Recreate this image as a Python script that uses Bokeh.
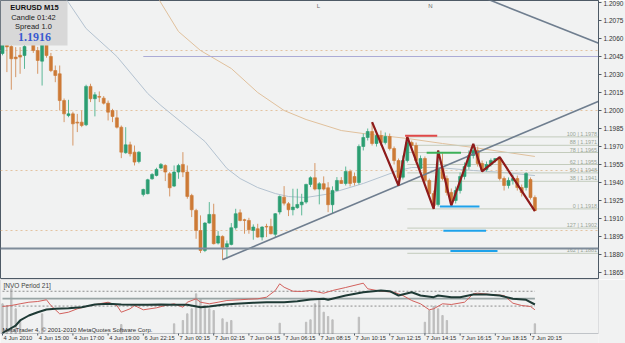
from bokeh.plotting import figure
from bokeh.layouts import column
from bokeh.models import Range1d, FixedTicker, NumeralTickFormatter, BoxAnnotation, Label, Span
from bokeh.embed import file_html
from bokeh.resources import INLINE
from bokeh.core.properties import value

# ------------------------------------------------------------------ data
bar_open = [
    1.20475, 1.20560, 1.20533, 1.20445, 1.20460, 1.20458, 1.20580, 1.20580, 1.20500, 1.20411,
    1.20580, 1.20450, 1.20333, 1.20306, 1.20083, 1.19958, 1.19972, 1.19903, 1.19903, 1.19881,
    1.20201, 1.20098, 1.20117, 1.20103, 1.20061, 1.20000, 1.19939, 1.19861, 1.19648, 1.19714,
    1.19653, 1.19575, 1.19301, 1.19307, 1.19431, 1.19459, 1.19520, 1.19542, 1.19473, 1.19370,
    1.19487, 1.19551, 1.19487, 1.19292, 1.19167, 1.19000, 1.18834, 1.19062, 1.19134, 1.18895,
    1.18951, 1.18862, 1.18884, 1.19023, 1.19148, 1.19090, 1.19084, 1.19001, 1.19015, 1.18945,
    1.19034, 1.19034, 1.18968, 1.19154, 1.19278, 1.19223, 1.19173, 1.19190, 1.19214, 1.19237,
    1.19384, 1.19440, 1.19345, 1.19390, 1.19356, 1.19215, 1.19334, 1.19417,
    1.19392, 1.19492, 1.19450, 1.19400, 1.19700, 1.19775, 1.19825, 1.19725, 1.19792, 1.19733,
    1.19783, 1.19683, 1.19583, 1.19444, 1.19583, 1.19733, 1.19708, 1.19517, 1.19600, 1.19417,
    1.19308, 1.19217, 1.19517, 1.19433, 1.19317, 1.19250, 1.19333, 1.19450, 1.19533, 1.19625,
    1.19667, 1.19558, 1.19508, 1.19550, 1.19583, 1.19600, 1.19433, 1.19375, 1.19417, 1.19433,
    1.19358, 1.19358, 1.19425, 1.19275]
bar_high = [
    1.20590, 1.20600, 1.20580, 1.20528, 1.20528, 1.20570, 1.20620, 1.20610, 1.20530, 1.20590,
    1.20610, 1.20480, 1.20375, 1.20375, 1.20100, 1.20089, 1.19990, 1.19972, 1.20000, 1.20215,
    1.20223, 1.20153, 1.20159, 1.20120, 1.20083, 1.20014, 1.20000, 1.19875, 1.19861, 1.19740,
    1.19708, 1.19660, 1.19348, 1.19431, 1.19478, 1.19523, 1.19562, 1.19551, 1.19487, 1.19542,
    1.19556, 1.19653, 1.19542, 1.19306, 1.19181, 1.19126, 1.19070, 1.19237, 1.19223, 1.18995,
    1.18959, 1.18917, 1.19062, 1.19181, 1.19176, 1.19098, 1.19106, 1.19051, 1.19056, 1.19035,
    1.19056, 1.19098, 1.19145, 1.19292, 1.19370, 1.19237, 1.19348, 1.19348, 1.19306, 1.19390,
    1.19451, 1.19562, 1.19403, 1.19451, 1.19403, 1.19368, 1.19445, 1.19445,
    1.19533, 1.19508, 1.19483, 1.19717, 1.19808, 1.19850, 1.19903, 1.19825, 1.19833, 1.19817,
    1.19808, 1.19700, 1.19600, 1.19625, 1.19780, 1.19750, 1.19733, 1.19625, 1.19617, 1.19433,
    1.19333, 1.19667, 1.19642, 1.19458, 1.19350, 1.19367, 1.19483, 1.19567, 1.19667, 1.19722,
    1.19700, 1.19583, 1.19575, 1.19600, 1.19600, 1.19611, 1.19450, 1.19442, 1.19467, 1.19458,
    1.19383, 1.19486, 1.19442, 1.19292]
bar_low = [
    1.20460, 1.20320, 1.20173, 1.20278, 1.20306, 1.20347, 1.20545, 1.20480, 1.20306, 1.20208,
    1.20440, 1.20320, 1.20236, 1.20000, 1.19903, 1.19944, 1.19708, 1.19820, 1.19861, 1.19870,
    1.20070, 1.19951, 1.20070, 1.20050, 1.19917, 1.19903, 1.19850, 1.19603, 1.19640, 1.19617,
    1.19542, 1.19560, 1.19284, 1.19301, 1.19423, 1.19451, 1.19512, 1.19412, 1.19284, 1.19362,
    1.19431, 1.19445, 1.19265, 1.19112, 1.18931, 1.18812, 1.18820, 1.19057, 1.18884, 1.18884,
    1.18757, 1.18765, 1.18876, 1.19007, 1.19076, 1.18973, 1.18973, 1.18923, 1.18940, 1.18917,
    1.18945, 1.18968, 1.18945, 1.19134, 1.19209, 1.19120, 1.19126, 1.19181, 1.19126, 1.19223,
    1.19362, 1.19334, 1.19218, 1.19334, 1.19153, 1.19140, 1.19328, 1.19390,
    1.19375, 1.19367, 1.19375, 1.19383, 1.19667, 1.19750, 1.19708, 1.19700, 1.19708, 1.19717,
    1.19667, 1.19550, 1.19375, 1.19425, 1.19567, 1.19667, 1.19558, 1.19500, 1.19400, 1.19283,
    1.19180, 1.19200, 1.19417, 1.19292, 1.19208, 1.19225, 1.19308, 1.19425, 1.19508, 1.19600,
    1.19533, 1.19492, 1.19492, 1.19533, 1.19567, 1.19417, 1.19333, 1.19350, 1.19383, 1.19333,
    1.19283, 1.19333, 1.19258, 1.19161]
bar_close = [
    1.20560, 1.20530, 1.20431, 1.20431, 1.20445, 1.20533, 1.20560, 1.20500, 1.20417, 1.20560,
    1.20458, 1.20333, 1.20292, 1.20083, 1.19972, 1.19972, 1.19889, 1.19895, 1.19875, 1.20201,
    1.20098, 1.20131, 1.20111, 1.20061, 1.19986, 1.19950, 1.19861, 1.19653, 1.19714, 1.19640,
    1.19570, 1.19653, 1.19342, 1.19423, 1.19467, 1.19509, 1.19551, 1.19487, 1.19356, 1.19487,
    1.19542, 1.19487, 1.19284, 1.19173, 1.19000, 1.18834, 1.19062, 1.19134, 1.18890, 1.18954,
    1.18857, 1.18890, 1.19023, 1.19140, 1.19084, 1.19084, 1.19007, 1.19029, 1.18945, 1.19029,
    1.19029, 1.18973, 1.19140, 1.19284, 1.19228, 1.19173, 1.19195, 1.19217, 1.19237, 1.19384,
    1.19440, 1.19345, 1.19390, 1.19345, 1.19215, 1.19334, 1.19417, 1.19392,
    1.19492, 1.19392, 1.19400, 1.19700, 1.19775, 1.19825, 1.19725, 1.19792, 1.19733, 1.19783,
    1.19683, 1.19583, 1.19442, 1.19583, 1.19733, 1.19708, 1.19583, 1.19600, 1.19417, 1.19308,
    1.19208, 1.19517, 1.19433, 1.19317, 1.19250, 1.19333, 1.19450, 1.19533, 1.19625, 1.19667,
    1.19558, 1.19508, 1.19550, 1.19583, 1.19600, 1.19433, 1.19375, 1.19417, 1.19433, 1.19358,
    1.19317, 1.19475, 1.19275, 1.19167]

time_ticks = [0, 8, 16, 24, 32, 40, 48, 56, 64, 72, 80, 88, 96, 104, 112, 120]
time_labels = ["4 Jun 2010", "4 Jun 15:00", "4 Jun 17:00", "4 Jun 19:00", "6 Jun 22:15",
               "7 Jun 00:15", "7 Jun 02:15", "7 Jun 04:15", "7 Jun 06:15", "7 Jun 08:15",
               "7 Jun 10:15", "7 Jun 12:15", "7 Jun 14:15", "7 Jun 16:15", "7 Jun 18:15",
               "7 Jun 20:15"]
price_ticks = [1.2090, 1.2075, 1.2060, 1.2045, 1.2030, 1.2015, 1.2000, 1.1985,
               1.1970, 1.1955, 1.1940, 1.1925, 1.1910, 1.1895, 1.1880, 1.1865]
grid_levels = [1.2050, 1.2000, 1.1950, 1.1900]

ma_fast_bar = [13, 15, 19, 24, 26, 33, 36, 41, 46, 51, 54, 58, 62, 65, 69, 74, 82, 90, 93, 99, 107, 114, 121]
ma_fast_val = [1.20992, 1.20900, 1.20683, 1.20517, 1.20450, 1.20142, 1.20042, 1.19892, 1.19742,
               1.19517, 1.19433, 1.19358, 1.19308, 1.19283, 1.19275, 1.19304, 1.19392, 1.19500,
               1.19525, 1.19525, 1.19500, 1.19483, 1.19458]
ma_slow_bar = [35, 40, 45, 52, 58, 64, 69, 77, 82, 92, 100, 107, 121]
ma_slow_val = [1.20958, 1.20658, 1.20500, 1.20350, 1.20150, 1.20000, 1.19925, 1.19833, 1.19808,
               1.19767, 1.19725, 1.19692, 1.19617]

zz_bar = [84, 90, 92, 98, 99, 102, 107, 109, 113, 121]
zz_price = [1.19903, 1.19375, 1.19780, 1.19180, 1.19667, 1.19208, 1.19722, 1.19492, 1.19611, 1.19161]

trend1_bar = [50, 90]
trend1_price = [1.18757, 1.19375]
trend2_bar = [111, 135]
trend2_price = [1.20917, 1.20567]
hline_level = 1.1885
purple_bar, purple_level = 32, 1.2045
current_price = 1.1916

fib_start_bar = 92
fib_prices = [1.1978, 1.1971, 1.1965, 1.1955, 1.1948, 1.1941, 1.1918, 1.1902, 1.1881]
fib_names = ["100", "88", "78", "62", "50", "38", "0", "127", "162"]

seg_colors = ["#E04848", "#3DB058", "#1EA2EA", "#1EA2EA", "#1EA2EA"]
seg_x0 = [91.5, 96.4, 99.4, 100.2, 101.8]
seg_x1 = [98.8, 104.2, 108.4, 109.9, 112.5]
seg_price = [1.1979, 1.19648, 1.19201, 1.18997, 1.18829]

nvo_red_bar = [0, 2, 4, 6, 8, 10, 11, 13, 15, 17, 19, 22, 24, 26, 27, 29, 30, 32, 35, 37, 39, 41,
               42, 44, 45, 47, 49, 51, 54, 56, 58, 60, 62, 63, 64, 66, 68, 70, 73, 75, 78, 82,
               83, 86, 89, 91, 93, 95, 97, 98, 100, 102, 105, 107, 108, 111, 114, 116, 118, 120, 121]
nvo_red_val = [83.9, 87.7, 94.3, 100.4, 103.1, 109.7, 87.7, 55.8, 62.0, 75.1, 83.9, 94.3, 100.4,
               87.7, 62.0, 75.1, 87.7, 71.2, 78.9, 87.7, 94.3, 81.2, 100.4, 113.5, 100.4, 94.3,
               100.4, 107.0, 109.7, 112.0, 113.5, 119.7, 145.4, 171.2, 158.1, 142.7, 141.6, 145.4,
               135.0, 145.4, 157.0, 173.5, 152.0, 142.7, 138.9, 126.2, 107.0, 94.3, 71.2, 75.1,
               94.3, 91.6, 100.4, 132.7, 135.0, 130.1, 126.2, 96.6, 87.7, 83.9, 71.2]
nvo_dark_bar = [0, 1, 3, 4, 6, 8, 10, 12, 15, 18, 21, 24, 27, 30, 33, 36, 39, 42, 45, 47, 50, 53,
                57, 60, 64, 67, 70, 73, 74, 78, 82, 86, 88, 90, 93, 95, 98, 99, 102, 104, 107, 110,
                113, 116, 119, 121]
nvo_dark_val = [-18.0, -8.4, 10.8, 30.1, 49.3, 62.0, 72.4, 75.1, 77.4, 81.2, 91.6, 94.3, 91.6,
                90.4, 90.4, 91.6, 90.4, 90.4, 81.2, 83.9, 90.4, 94.3, 98.1, 100.4, 100.4, 104.3,
                110.8, 113.5, 109.7, 126.2, 138.9, 145.4, 142.7, 126.2, 138.9, 126.2, 119.7, 126.2,
                119.7, 119.7, 130.1, 130.1, 126.2, 113.5, 109.7, 91.6]
nvo_hist_bar = [0, 1, 2, 3, 4, 9, 27, 39, 41, 42, 43, 44, 45, 46, 47, 48, 50, 51, 52, 63, 69, 70,
                71, 72, 73, 74, 75, 81, 96, 97, 98, 99, 100, 101, 121]
nvo_hist_val = [94.3, 87.7, 152.0, 75.1, 30.1, 55.8, 14.7, 17.4, 30.1, 55.8, 75.1, 132.7, 113.5,
                87.7, 75.1, 68.5, 36.6, 23.5, 30.1, 19.7, 23.5, 32.8, 94.3, 113.5, 62.0, 45.4,
                32.8, 42.8, 23.5, 68.5, 83.9, 75.1, 49.3, 30.1, 17.4]
nvo_levels_dotted = [142.5, 85.5]
nvo_level_solid = 114.0
nvo_max, nvo_min = 176.1957, -8.3903

# ------------------------------------------------------------------ layout constants
BAR_PX = 4.4
FRAME_W = 598
MAIN_H = 278
IND_H = 54          # indicator pane proper
AXIS_H = 10         # time-label strip under the indicator pane
PX_PER_PRICE = 12000.0
X0 = -2.0 / BAR_PX
X1 = X0 + FRAME_W / BAR_PX
P_TOP = 1.209167
P_BOT = P_TOP - MAIN_H / PX_PER_PRICE
IND_TOP, IND_BOT = 187.73, -19.93
IND_UNIT = (IND_TOP - IND_BOT) / IND_H
IND_LOW = IND_BOT - AXIS_H * IND_UNIT

BG = "#F1F2F2"
FRAME_LINE = "#4E5A66"
FONT = "Liberation Sans"


def xpx(px):
    return X0 + px / BAR_PX


def ypx(py):
    return P_TOP - py / PX_PER_PRICE


def ipx(py):
    return IND_TOP - (py - 279) * IND_UNIT


# ------------------------------------------------------------------ main pane
p = figure(frame_width=FRAME_W, frame_height=MAIN_H, x_range=Range1d(X0, X1),
           y_range=Range1d(P_BOT, P_TOP), output_backend="svg", toolbar_location=None,
           x_axis_location=None, y_axis_location="right",
           min_border_left=0, min_border_top=0, min_border_bottom=1, min_border_right=27,
           background_fill_color=BG, border_fill_color=BG,
           outline_line_color=FRAME_LINE, outline_line_width=1)
p.xgrid.visible = False
p.ygrid.ticker = FixedTicker(ticks=grid_levels)
p.ygrid.grid_line_color = "#E3C3A0"
p.ygrid.grid_line_dash = "2 3"
p.ygrid.grid_line_width = 1

ax = p.yaxis[0]
ax.ticker = FixedTicker(ticks=price_ticks)
ax.formatter = NumeralTickFormatter(format="0.0000")
ax.major_label_text_font_size = "6.5px"
ax.major_label_text_font = FONT
ax.major_label_text_color = "#333333"
ax.axis_line_color = FRAME_LINE
ax.major_tick_line_color = FRAME_LINE
ax.major_tick_out = 3
ax.major_tick_in = 0
ax.minor_tick_out = 0
ax.minor_tick_in = 0
ax.major_label_standoff = 2

# moving averages
p.line(ma_fast_bar, ma_fast_val, line_color="#B3C2D0", line_width=1)
p.line(ma_slow_bar, ma_slow_val, line_color="#E0C09C", line_width=1)

# fibonacci levels
p.ray(x=[fib_start_bar] * len(fib_prices), y=fib_prices, length=0, angle=0,
      line_color="#C3CBBC", line_width=1)
p.text(x=[X1 - 0.3] * len(fib_prices), y=fib_prices,
       text=[f"{n} | {v:.4f}" for n, v in zip(fib_names, fib_prices)],
       text_align="right", text_baseline="bottom", text_font_size="5.5px",
       text_font=value(FONT), text_color="#98A596")

# candles
idx = list(range(len(bar_open)))
up = [c >= o for o, c in zip(bar_open, bar_close)]
body_col = ["#2C9E72" if u else "#CD7A36" for u in up]
wick_col = ["#5DB897" if u else "#D69767" for u in up]
p.segment(x0=idx, y0=bar_high, x1=idx, y1=bar_low, line_color=wick_col, line_width=1)
p.vbar(x=idx, width=0.68,
       top=[max(o, c) for o, c in zip(bar_open, bar_close)],
       bottom=[min(o, c) for o, c in zip(bar_open, bar_close)],
       fill_color=body_col, line_color=body_col, line_width=0.6)

# trend lines (extended as rays through their two anchors)
for bars, prices in ((trend1_bar, trend1_price), (trend2_bar, trend2_price)):
    slope = (prices[1] - prices[0]) / (bars[1] - bars[0])
    xa, xb = bars[0], X1 + 5
    if bars is trend2_bar:
        xa = bars[0] - 10
    p.segment(x0=[xa], y0=[prices[0] + slope * (xa - bars[0])],
              x1=[xb], y1=[prices[0] + slope * (xb - bars[0])],
              line_color="#6F7E8F", line_width=1.6)

p.ray(x=[purple_bar], y=[purple_level], length=0, angle=0, line_color="#ABABD6", line_width=1)

# zigzag and marker segments
p.line(zz_bar, zz_price, line_color="#8E1B1B", line_width=2.2)
p.segment(x0=seg_x0, y0=seg_price, x1=seg_x1, y1=seg_price, line_color=seg_colors, line_width=2)

p.add_layout(Span(location=hline_level, dimension="width", line_color="#7F8C9A", line_width=2))

# object markers at top
for t, xp in (("L", 318), ("N", 430)):
    p.add_layout(Label(x=xpx(xp), y=ypx(5), text=t, text_font_size="6px", text_font=FONT,
                       text_color="#6A6A6A", text_align="center", text_baseline="middle"))

# info box
p.add_layout(BoxAnnotation(left=X0, right=xpx(67), top=P_TOP, bottom=ypx(45),
                           fill_color="#D8D8D8", fill_alpha=1.0, line_alpha=0))
for txt, yp, size, style, col, fnt in (("EURUSD M15", 7, "7.5px", "bold", "#111111", FONT),
                                       ("Candle  01:42", 16.5, "7.5px", "normal", "#222222", FONT),
                                       ("Spread  1.0", 25.5, "7.5px", "normal", "#222222", FONT),
                                       (f"{current_price:.4f}", 36.5, "12px", "bold", "#3A5BD0",
                                        "Liberation Serif")):
    p.add_layout(Label(x=xpx(34), y=ypx(yp), text=txt, text_font_size=size,
                       text_font_style=style, text_color=col, text_font=fnt,
                       text_align="center", text_baseline="middle"))

# price boxes on the axis
p.add_layout(Label(x=X1, y=current_price, x_offset=1, text=f"{current_price:.4f}",
                   text_font_size="6.5px", text_font=FONT, text_color="white",
                   background_fill_color="#101010", text_align="left", text_baseline="middle"))
p.add_layout(Label(x=X1, y=hline_level, x_offset=1, text=f"{hline_level:.4f}",
                   text_font_size="6.5px", text_font=FONT, text_color="white",
                   background_fill_color="#7F8C9A", text_align="left", text_baseline="middle"))

# ------------------------------------------------------------------ indicator pane + time strip
q = figure(frame_width=FRAME_W, frame_height=IND_H + AXIS_H, x_range=p.x_range,
           y_range=Range1d(IND_LOW, IND_TOP), output_backend="svg", toolbar_location=None,
           x_axis_location=None, y_axis_location=None,
           min_border_left=0, min_border_top=0, min_border_bottom=0, min_border_right=27,
           background_fill_color=BG, border_fill_color=BG, outline_line_color=None)
q.grid.visible = False

# pane border
q.add_layout(BoxAnnotation(left=X0, right=X1, bottom=IND_BOT, top=IND_TOP, fill_alpha=0,
                           line_color=FRAME_LINE, line_width=1))

q.vbar(x=nvo_hist_bar, top=nvo_hist_val, bottom=IND_BOT, width=0.3,
       fill_color="#BEBEBE", line_color="#BEBEBE")
last_bar = len(bar_open) - 1
for lv in nvo_levels_dotted:
    q.line([0, last_bar], [lv, lv], line_color="#8C8C8C", line_dash="2 2", line_width=1)
q.line([0, last_bar], [nvo_level_solid, nvo_level_solid], line_color="#98A4A4", line_width=1.6)
q.line(nvo_red_bar, nvo_red_val, line_color="#D2605C", line_width=1)
q.line(nvo_dark_bar, nvo_dark_val, line_color="#1E3A35", line_width=2)

# time axis: small ticks and left-aligned labels under the pane
q.segment(x0=time_ticks, y0=[IND_BOT] * len(time_ticks), x1=time_ticks,
          y1=[IND_BOT - 2 * IND_UNIT] * len(time_ticks), line_color=FRAME_LINE, line_width=1)
q.text(x=[t + 0.25 for t in time_ticks], y=[IND_BOT - 1.5 * IND_UNIT] * len(time_ticks),
       text=time_labels, text_align="left", text_baseline="top", text_font_size="5.8px",
       text_font=value(FONT), text_color="#333333")

q.add_layout(Label(x=xpx(3), y=ipx(285), text="[NVO Period 21]", text_font_size="6.5px",
                   text_font=FONT, text_color="#404040", text_baseline="middle"))
q.add_layout(Label(x=xpx(2), y=ipx(329), text="MetaTrader 4, \u00a9 2001-2010 MetaQuotes Software Corp.",
                   text_font_size="6px", text_font=FONT, text_color="#303030",
                   text_baseline="middle"))
for v in (nvo_max, nvo_min):
    q.add_layout(Label(x=X1, y=v, x_offset=1, text=f"{v:.4f}", text_font_size="5.8px",
                       text_font=FONT, text_color="#333333", text_align="left",
                       text_baseline="middle"))

layout = column(p, q, spacing=0)
open("out.html", "w").write(file_html(layout, INLINE))
